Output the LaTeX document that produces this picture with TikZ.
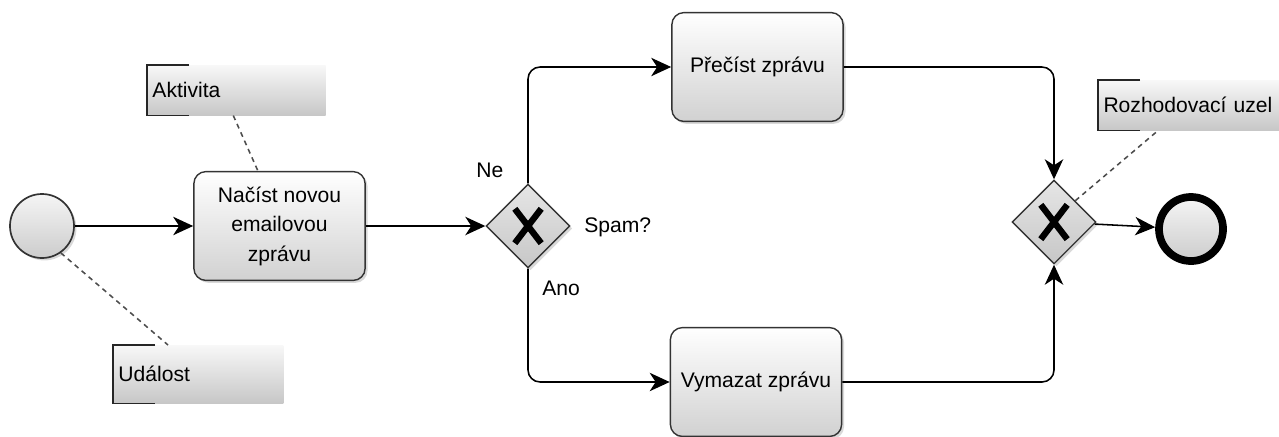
\documentclass[tikz,border=0pt]{standalone}
\usepackage{fontspec}
\setmainfont{Liberation Sans}
\usetikzlibrary{
	arrows.meta,
	calc,
	positioning,
	shapes.geometric,
	shadows,
}
\tikzset{
soft shadow/.style={
	drop shadow={opacity=0.3, shadow xshift=0.06cm, shadow yshift=-0.06cm},
},
task/.style={
	draw=black!80,
	line width=1pt,
	rounded corners=0.3cm,
	top color=white,
	bottom color=black!18,
	minimum width=4.28cm,
	minimum height=2.72cm,
	align=center,
	soft shadow,
},
gateway/.style={
	draw=black!80,
	diamond,
	line width=1pt,
	inner sep=0pt,
	minimum size=2.1cm,
	top color=black!10,
	bottom color=black!22,
	soft shadow,
	path picture={
		\draw[black, line width=4.5pt]
			($(path picture bounding box.center)+(-0.33cm,0.43cm)$) --
			($(path picture bounding box.center)+(0.33cm,-0.43cm)$)
			($(path picture bounding box.center)+(0.33cm,0.43cm)$) --
			($(path picture bounding box.center)+(-0.33cm,-0.43cm)$);
	},
},
start/.style={
	draw=black!80,
	circle,
	line width=1.2pt,
	inner sep=0pt,
	minimum size=1.6cm,
	top color=black!4,
	bottom color=black!20,
	soft shadow,
},
stop/.style={
	start,
	draw=black,
	line width=5.5pt,
},
flow/.style={
	-{Stealth[length=0.5cm, width=0.46cm, inset=0.15cm]},
	line width=1.1pt,
	rounded corners=0.3cm,
},
lbl/.style={
	inner sep=0pt,
	anchor=west,
},
note/.style={
	anchor=north west,
	top color=black!3,
	bottom color=black!22,
	minimum height=1.25cm,
	inner xsep=0.13cm,
	align=left,
},
bracket/.style={
	line width=1.2pt,
	black!85,
},
link/.style={
	dashed,
	dash pattern=on 3.5pt off 3pt,
	line width=1.1pt,
	black!70,
},
}

\begin{document}
\begin{tikzpicture}[x=0.025cm, y=-0.025cm, font=\fontsize{15}{21}\selectfont]
\useasboundingbox (0,0) rectangle (1279,436);

\node[start] (start) at (42,226) {};
\node[task] (nacist) at (279.5,226) {Načíst novou\\emailovou\\zprávu};
\node[gateway] (spam) at (528,226) {};
\node[task] (precist) at (757.5,67) {Přečíst zprávu};
\node[task] (vymazat) at (756,382) {Vymazat zprávu};
\node[gateway] (uzel) at (1054,222) {};
\node[stop] (konec) at (1191,229) {};

\node[lbl] (ne) at (476,170) {Ne};
\node[lbl] (otazka) at (584,227) {Spam?};
\node[lbl] (ano) at (542,288) {Ano};

\node[note, text width=4.2cm] (aktivita) at (147,65) {Aktivita};
\node[note, text width=3.99cm, minimum height=1.45cm] (udalost) at (113,345) {Událost};
\node[note, text width=4.3cm] (popis) at (1098,80) {Rozhodovací uzel};

\foreach \n in {aktivita,udalost,popis}{
	\draw[bracket] ([xshift=1.05cm]\n.north west) -- (\n.north west)
		-- (\n.south west) -- ([xshift=1.05cm]\n.south west);
}

\draw[flow] (start) -- (nacist);
\draw[flow] (nacist) -- (spam);
\draw[flow] (spam.north) |- (precist);
\draw[flow] (spam.south) |- (vymazat);
\draw[flow] (precist) -| (uzel.north);
\draw[flow] (vymazat) -| (uzel.south);
\draw[flow] (uzel) -- (konec);

\draw[link] ([xshift=-0.08cm]aktivita.south) -- ([xshift=-0.54cm]nacist.north);
\draw[link] (start.-55) -- ([xshift=1.375cm]udalost.north west);
\draw[link] (uzel.north east) -- ([xshift=1.5cm]popis.south west);
\end{tikzpicture}
\end{document}
